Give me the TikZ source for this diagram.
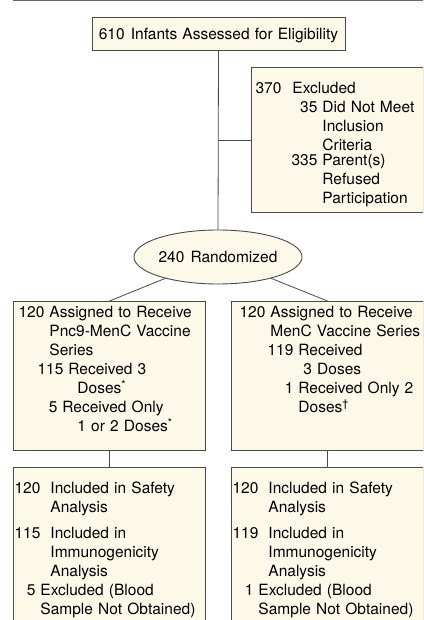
\documentclass[tikz,border=0pt]{standalone}
\usepackage{fontspec}
\setmainfont{TeX Gyre Heros}
\usetikzlibrary{positioning}
\usetikzlibrary{shapes.geometric, calc}

\definecolor{boxfill}{HTML}{FCF9E9}
\definecolor{boxline}{HTML}{4A4A4A}
\definecolor{rulegray}{HTML}{6A6A6A}

% number set flush right in a column of width #2, then the text
\newcommand{\cnt}[3][5pt]{\makebox[#2][r]{#3\hspace{#1}}}
% one line of a box, never broken
\newcommand{\boxrow}[1]{\mbox{#1}}

\begin{document}
\begin{tikzpicture}[x=1pt, y=-1pt, font=\fontsize{15.5}{19}\selectfont]%

            \tikzstyle{box} = [ rectangle, draw = boxline, line width = 0.9pt, fill = boxfill, anchor = north west, align = left, inner ysep = 0pt]
            \tikzstyle{rnd} = [ ellipse, draw = boxline, line width = 0.9pt, fill = boxfill, minimum width = 168pt, minimum height = 54pt, inner sep = 0pt]
            \tikzstyle{conn} = [ draw = boxline, line width = 0.8pt]
        %
            \useasboundingbox (0,0) rectangle (423,620);
            \clip (0,0) rectangle (423,620);
            \draw[rulegray, line width = 1.4pt] (13,0.5) -- (423,0.5);

            %% Enrollment
            \node [box, anchor = north, align = center, inner xsep = 0pt, text width = 253pt, text height = 22pt, text depth = 11pt] (elig) at (218.5,17)
                {610\hspace{0.4em}Infants Assessed for Eligibility};
            \node [box, inner xsep = 7pt, text width = 158pt, text height = 26pt, text depth = 119pt] (excl) at (251,67)
                {\boxrow{\cnt[11pt]{34pt}{370}Excluded}\\
                 \boxrow{\cnt{64pt}{35}Did Not Meet}\\
                 \boxrow{\hspace*{64pt}Inclusion}\\
                 \boxrow{\hspace*{64pt}Criteria}\\[-4pt]
                 \boxrow{\cnt{64pt}{335}Parent(s)}\\
                 \boxrow{\hspace*{64pt}Refused}\\
                 \boxrow{\hspace*{64pt}Participation}};
            \node [rnd] (rand) at (218,257) {240\hspace{0.4em}Randomized};

            \draw[conn] (elig.south) -- (rand.north);
            \draw[conn] (rand.north |- excl.west) -- (excl.west);

            %% Allocation
            \node [box, inner xsep = 10pt, text width = 172pt, text height = 16pt, text depth = 133pt] (asg_l) at (13,301)
                {\boxrow{\cnt{26pt}{120}Assigned to Receive}\\
                 \boxrow{\hspace*{26pt}Pnc9-MenC Vaccine}\\
                 \boxrow{\hspace*{26pt}Series}\\
                 \boxrow{\cnt{45pt}{115}Received 3}\\
                 \boxrow{\hspace*{54pt}Doses\textsuperscript{*}}\\
                 \boxrow{\cnt{39pt}{5}Received Only}\\
                 \boxrow{\hspace*{54pt}1 or 2 Doses\textsuperscript{*}}};
            \node [box, inner xsep = 7pt, text width = 178pt, text height = 16pt, text depth = 133pt] (asg_r) at (231,301)
                {\boxrow{\cnt{32pt}{120}Assigned to Receive}\\
                 \boxrow{\hspace*{32pt}MenC Vaccine Series}\\
                 \boxrow{\cnt{60pt}{119}Received}\\
                 \boxrow{\hspace*{65pt}3 Doses}\\
                 \boxrow{\cnt{60pt}{1}Received Only 2}\\
                 \boxrow{\hspace*{60pt}Doses\textsuperscript{\textdagger}}};

            \draw[conn] (rand) -- (asg_l.north);
            \draw[conn] (rand) -- (asg_r.north);

            %% Analysis
            \node [box, inner xsep = 2pt, text width = 188pt, text height = 26pt, text depth = 170pt] (ana_l) at (13,467)
                {\boxrow{\cnt[10pt]{35pt}{120}Included in Safety}\\
                 \boxrow{\hspace*{35pt}Analysis}\\[7pt]
                 \boxrow{\cnt[10pt]{35pt}{115}Included in}\\
                 \boxrow{\hspace*{35pt}Immunogenicity}\\
                 \boxrow{\hspace*{35pt}Analysis}\\
                 \boxrow{\cnt{25pt}{5}Excluded (Blood}\\
                 \boxrow{\hspace*{25pt}Sample Not Obtained)}};
            \node [box, inner xsep = 2pt, text width = 188pt, text height = 26pt, text depth = 170pt] (ana_r) at (231,467)
                {\boxrow{\cnt[10pt]{35pt}{120}Included in Safety}\\
                 \boxrow{\hspace*{35pt}Analysis}\\[7pt]
                 \boxrow{\cnt[10pt]{35pt}{119}Included in}\\
                 \boxrow{\hspace*{35pt}Immunogenicity}\\
                 \boxrow{\hspace*{35pt}Analysis}\\
                 \boxrow{\cnt{25pt}{1}Excluded (Blood}\\
                 \boxrow{\hspace*{25pt}Sample Not Obtained)}};

            \draw[conn] (asg_l) -- (ana_l);
            \draw[conn] (asg_r) -- (ana_r);

        \end{tikzpicture}
\end{document}
